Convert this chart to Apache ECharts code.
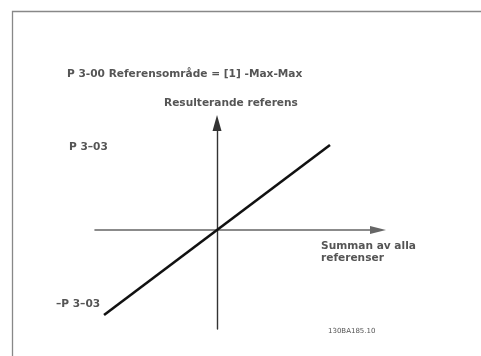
<!DOCTYPE html>
<html>
<head>
<meta charset="utf-8">
<script src="https://cdn.jsdelivr.net/npm/echarts@6/dist/echarts.min.js"></script>
<style>
  html, body { margin: 0; padding: 0; background: #fff; }
  #chart { width: 481px; height: 356px; }
</style>
</head>
<body>
<div id="chart"></div>
<script>
// Reference line: resulting reference versus sum of all references (-Max..Max)
const sumOfReferences = [-1, 1];
const resultingReference = [-1, 1];

const titleText = 'P 3-00 Referensområde = [1] -Max-Max';
const yAxisName = 'Resulterande referens';
const xAxisName = ['Summan av alla', 'referenser'];
const upperLimitLabel = 'P 3–03';
const lowerLimitLabel = '–P 3–03';
const drawingCode = '130BA185.10';

const lineData = sumOfReferences.map((x, i) => [x, resultingReference[i]]);

const family = '"DejaVu Sans", Verdana, sans-serif';
const textStyle = (text, size, fill, weight) => ({
  text, fontFamily: family, fontSize: size, fontWeight: weight || 'bold', fill: fill || '#555'
});
const chart = echarts.init(document.getElementById('chart'));

chart.setOption({
  animation: false,
  backgroundColor: '#fff',
  grid: { left: 95, right: 103, top: 123, bottom: 27 },
  xAxis: {
    type: 'value',
    min: -1.08, max: 1.425,
    axisLine: {
      onZero: true,
      symbol: ['none', 'triangle'],
      symbolSize: [8, 16],
      lineStyle: { color: '#666', width: 1.6 }
    },
    axisTick: { show: false },
    axisLabel: { show: false },
    splitLine: { show: false }
  },
  yAxis: {
    type: 'value',
    min: -1.165, max: 1.259,
    axisLine: {
      onZero: true,
      symbol: ['none', 'triangle'],
      symbolSize: [9, 16],
      lineStyle: { color: '#333', width: 1.4 }
    },
    axisTick: { show: false },
    axisLabel: { show: false },
    splitLine: { show: false }
  },
  series: [{
    type: 'line',
    data: lineData,
    symbol: 'none',
    lineStyle: { color: '#111', width: 2.6 }
  }],
  graphic: [
    { type: 'rect', shape: { x: 12.5, y: 11.5, width: 500, height: 400 },
      style: { fill: 'none', stroke: '#888', lineWidth: 1.3 }, silent: true },
    { type: 'text', left: 67, top: 69, style: textStyle(titleText, 10.6) },
    { type: 'text', left: 164, top: 98, style: textStyle(yAxisName, 10.6) },
    { type: 'text', left: 69, top: 142, style: textStyle(upperLimitLabel, 10.6) },
    { type: 'text', left: 56, top: 299, style: textStyle(lowerLimitLabel, 10.6) },
    { type: 'text', left: 321, top: 240,
      style: Object.assign(textStyle(xAxisName.join('\n'), 10.6), { lineHeight: 12 }) },
    { type: 'text', left: 328, top: 328, style: textStyle(drawingCode, 7, '#555', 'normal') }
  ]
});
</script>
</body>
</html>
